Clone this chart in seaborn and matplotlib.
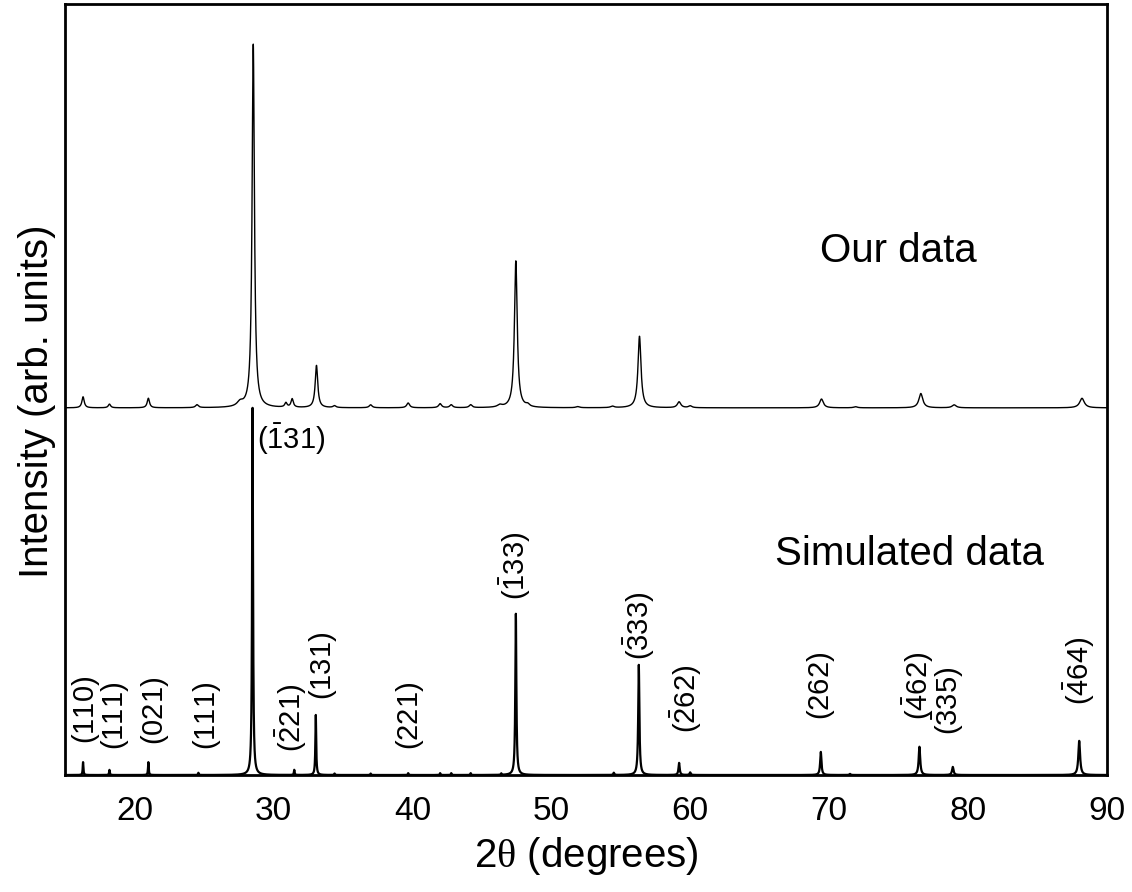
import numpy as np
import pandas as pd
import matplotlib
matplotlib.use('Agg')
import matplotlib.pyplot as plt
import seaborn as sns

# measured pattern: peak centre (deg), height (main peak = 100), FWHM (deg)
exp_pos = [16.3, 18.2, 21.0, 24.5, 27.6, 28.55, 30.9, 31.35, 33.1, 34.4, 37.0,
           39.7, 42.0, 42.8, 44.2, 46.3, 47.45, 48.3, 51.9, 54.4, 56.35, 59.2,
           60.0, 69.45, 71.9, 76.6, 79.0, 88.2]
exp_height = [3.0, 1.0, 2.6, 0.8, 1.2, 99.0, 1.2, 2.3, 11.5, 0.5, 0.8,
              1.3, 1.1, 0.8, 0.8, 0.6, 40.0, 0.6, 0.3, 0.4, 19.5, 1.6,
              0.5, 2.4, 0.3, 3.9, 0.8, 2.6]
exp_fwhm = [0.2, 0.2, 0.2, 0.25, 0.5, 0.2, 0.2, 0.2, 0.22, 0.25, 0.25,
            0.25, 0.25, 0.25, 0.25, 0.4, 0.24, 0.3, 0.3, 0.3, 0.26, 0.3,
            0.3, 0.32, 0.3, 0.34, 0.35, 0.4]

# simulated pattern
sim_pos = [16.3, 18.2, 21.0, 24.6, 28.5, 31.5, 33.05, 34.4, 37.0, 39.7, 42.0,
           42.8, 44.2, 46.4, 47.45, 54.5, 56.3, 59.2, 60.0, 69.4, 71.5, 76.5,
           78.9, 88.0]
sim_height = [3.5, 1.4, 3.5, 0.6, 100.0, 1.4, 16.4, 0.4, 0.4, 0.5, 0.5,
              0.5, 0.5, 0.4, 44.0, 0.6, 30.0, 3.3, 0.7, 6.3, 0.3, 7.7,
              2.2, 9.3]
sim_fwhm = [0.06, 0.06, 0.06, 0.06, 0.08, 0.06, 0.07, 0.06, 0.06, 0.06, 0.06,
            0.06, 0.06, 0.06, 0.09, 0.08, 0.1, 0.1, 0.1, 0.11, 0.1, 0.13,
            0.13, 0.15]

exp_offset = 100

# reflection labels: text, position, bottom of label
hkl_text = [r'$(110)$', r'$(111)$', r'$(021)$', r'$(111)$', r'$(\bar{2}21)$',
            r'$(131)$', r'$(221)$', r'$(\bar{1}33)$', r'$(\bar{3}33)$',
            r'$(\bar{2}62)$', r'$(262)$', r'$(\bar{4}62)$', r'$(\bar{3}35)$',
            r'$(\bar{4}64)$']
hkl_x = [16.5, 18.6, 21.5, 25.2, 31.3, 33.6, 39.8, 47.4, 56.3, 59.7, 69.4,
         76.4, 78.6, 88.0]
hkl_y = [8.5, 6.8, 8.2, 6.8, 6.3, 20.4, 6.8, 47.6, 31.3, 11.4, 15.0, 15.0,
         10.9, 19.0]


def profile(x, pos, height, fwhm):
    y = np.zeros_like(x)
    for p, h, w in zip(pos, height, fwhm):
        g = (w / 2) ** 2
        y += h * g / ((x - p) ** 2 + g)
    return y


two_theta = np.arange(15.0, 90.0, 0.004)
df = pd.DataFrame({
    'two_theta': two_theta,
    'measured': profile(two_theta, exp_pos, exp_height, exp_fwhm) + exp_offset,
    'simulated': profile(two_theta, sim_pos, sim_height, sim_fwhm),
})

sns.set_style('white')
plt.rcParams['font.family'] = ['Liberation Sans', 'DejaVu Sans']
plt.rcParams['mathtext.fontset'] = 'custom'
plt.rcParams['mathtext.rm'] = 'Liberation Sans'
plt.rcParams['mathtext.it'] = 'Liberation Serif'
plt.rcParams['mathtext.default'] = 'regular'
plt.rcParams['text.color'] = 'black'
plt.rcParams['axes.labelcolor'] = 'black'
plt.rcParams['xtick.color'] = 'black'

fig = plt.figure(figsize=(11.32, 8.92), dpi=100)
ax = fig.add_axes([65 / 1132, 1 - 775 / 892, 1042 / 1132, 771 / 892])

sns.lineplot(data=df, x='two_theta', y='measured', color='black', lw=1.0,
             estimator=None, sort=False, ax=ax)
sns.lineplot(data=df, x='two_theta', y='simulated', color='black', lw=1.6,
             estimator=None, sort=False, ax=ax)

for t, x, y in zip(hkl_text, hkl_x, hkl_y):
    ax.text(x, y, t, rotation=90, ha='center', va='bottom', fontsize=21)
ax.text(28.8, 91.5, r'$(\bar{1}31)$', ha='left', va='center', fontsize=21)

ax.text(75.0, 142.7, 'Our data', ha='center', va='center', fontsize=29)
ax.text(75.8, 60.3, 'Simulated data', ha='center', va='center', fontsize=29)

ax.set_xlim(15, 90)
ax.set_ylim(0, 210)
ax.set_xticks([20, 30, 40, 50, 60, 70, 80, 90])
ax.set_yticks([])
ax.tick_params(axis='x', length=0, pad=15, labelsize=24)
ax.set_xlabel(r'2$\mathit{\theta}$ (degrees)', fontsize=29, labelpad=6)
ax.set_ylabel('Intensity (arb. units)', fontsize=29)
ax.yaxis.set_label_coords(-0.009, 0.485)
for s in ax.spines.values():
    s.set_color('black')
    s.set_linewidth(2.0)

fig.savefig('out.png', dpi=100)
